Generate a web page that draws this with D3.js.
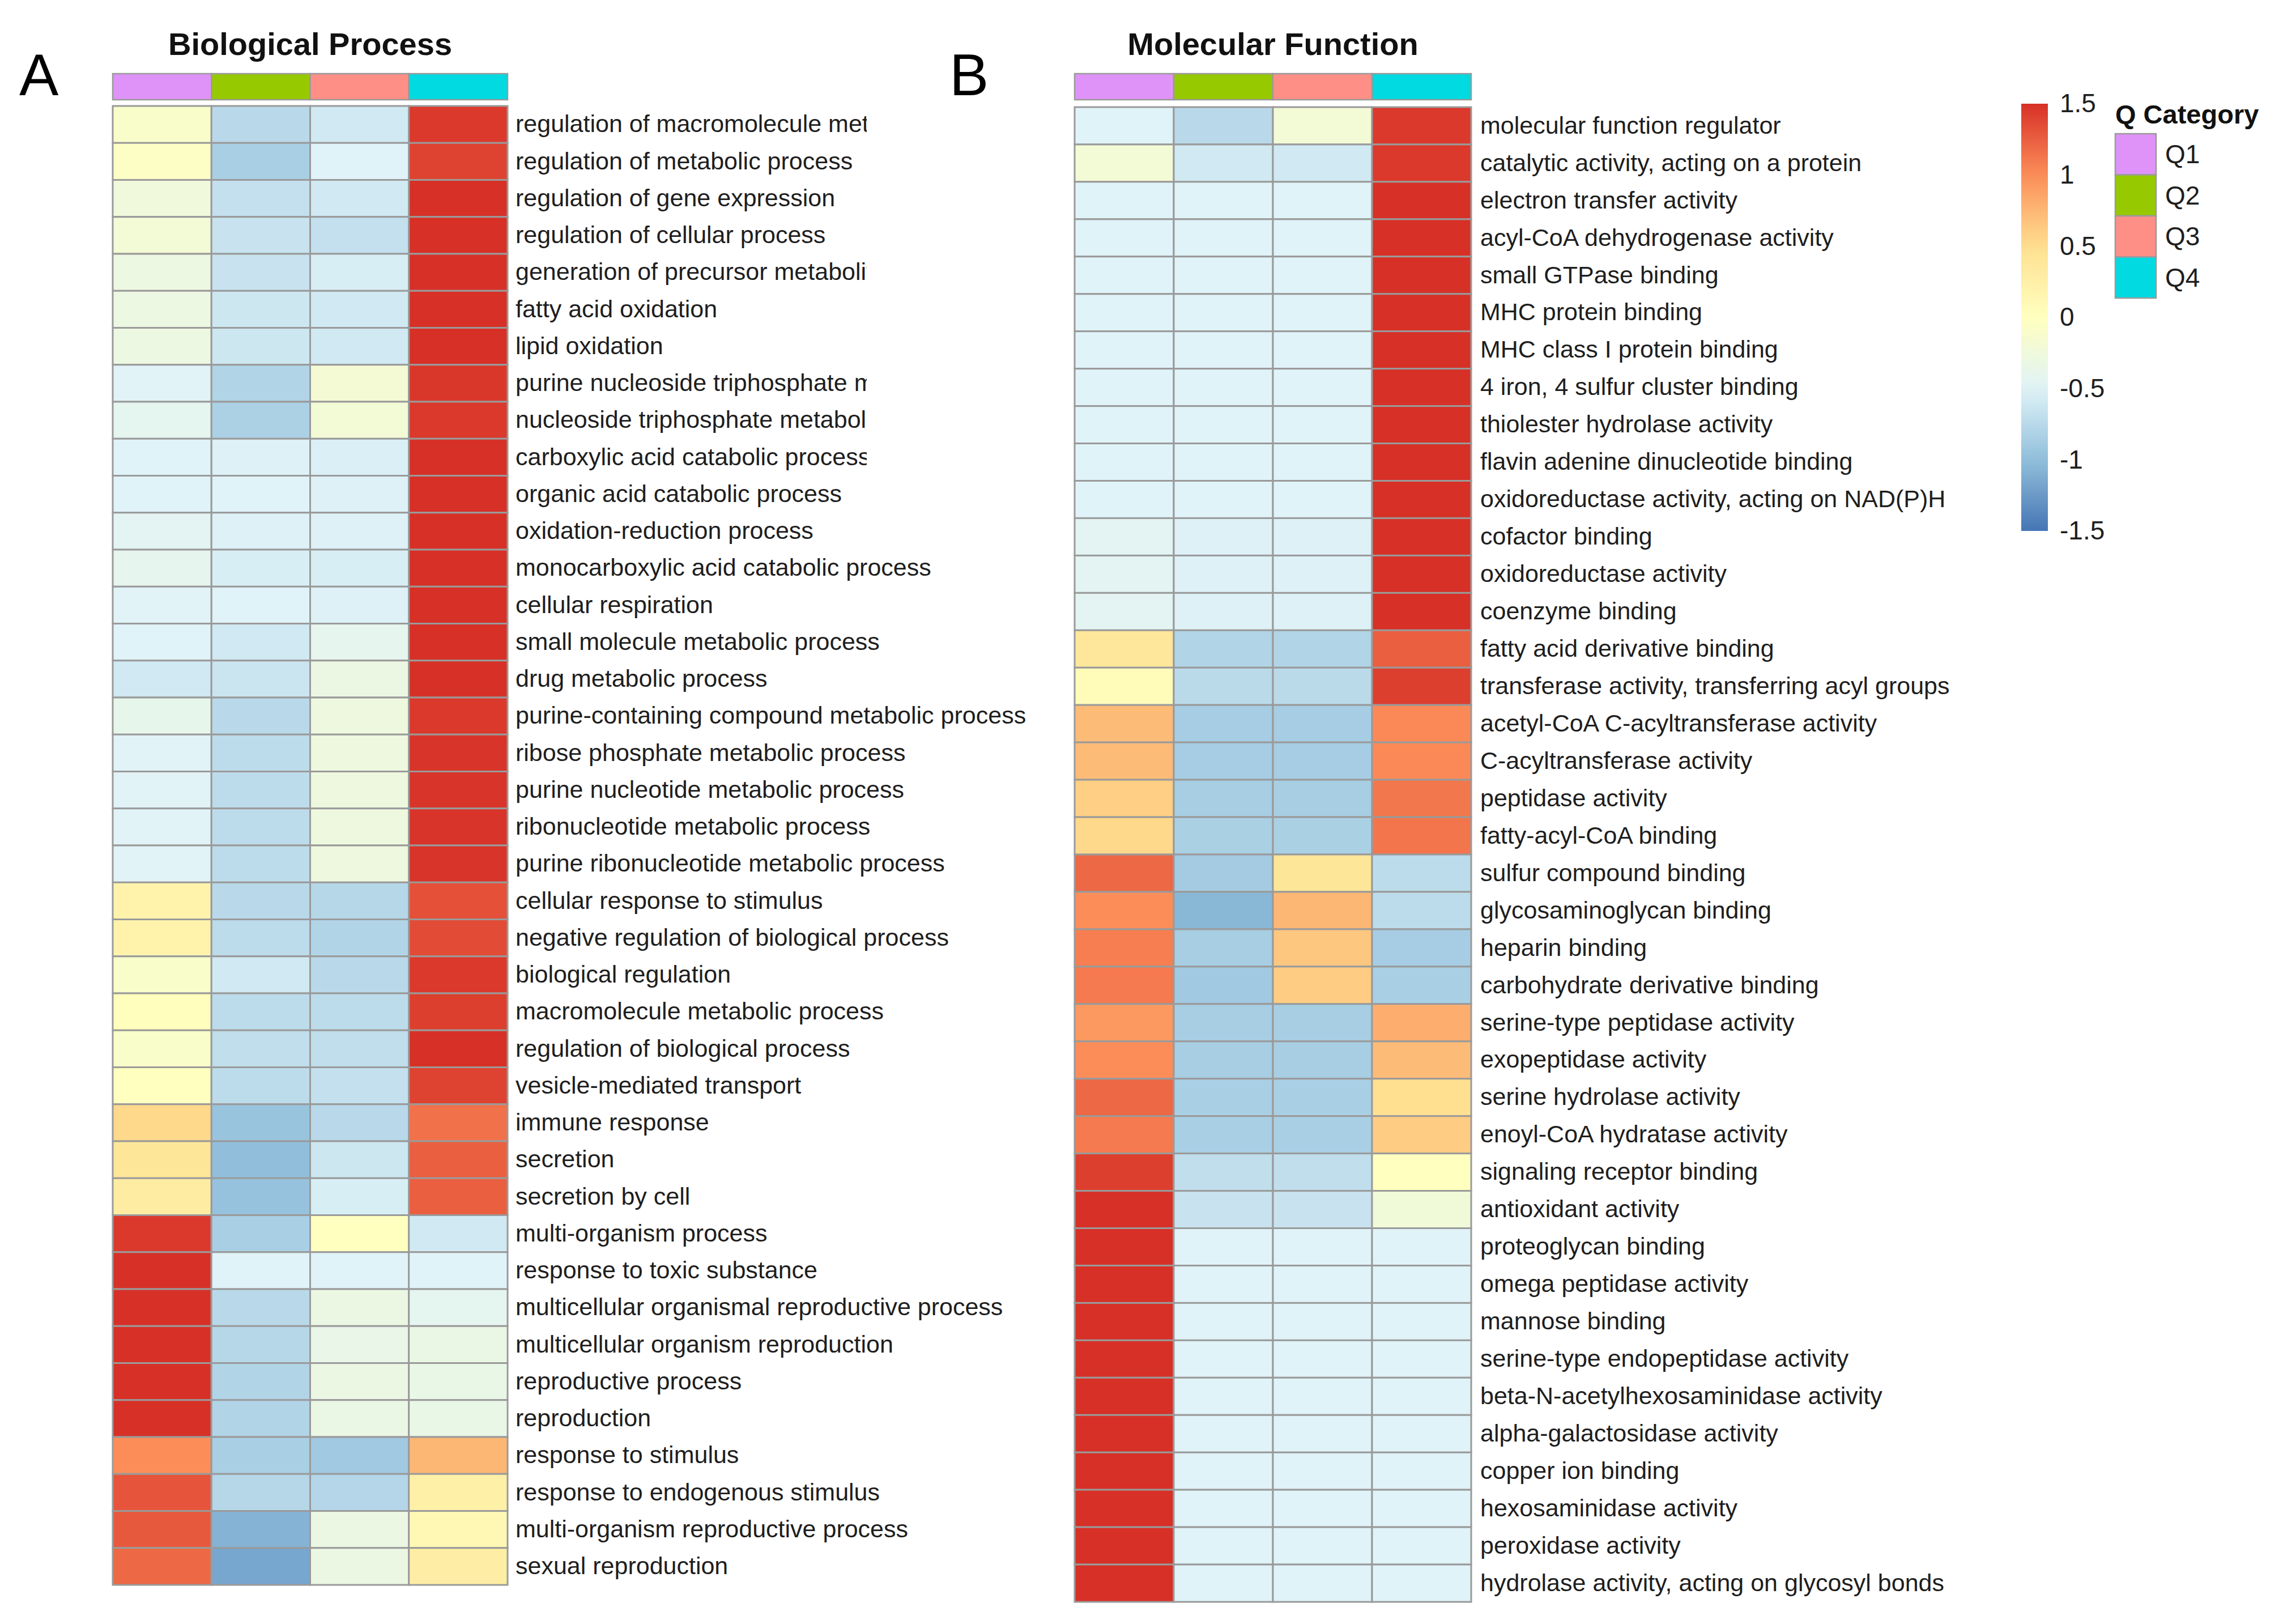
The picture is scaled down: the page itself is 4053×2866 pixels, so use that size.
<!DOCTYPE html>
<html>
<head>
<meta charset="utf-8">
<script src="https://cdn.jsdelivr.net/npm/d3@7"></script>
<style>
  body { margin: 0; background: #fff; }
  text { font-family: "Liberation Sans", Arial, Helvetica, sans-serif; }
</style>
</head>
<body>
<div id="chart-area"></div>
<script>
// z-scored GO term enrichment per quartile, two heatmaps side by side

var categories = ["Q1", "Q2", "Q3", "Q4"];
var categoryColors = ["#DF93F8", "#97C900", "#FD8F87", "#00DAE0"];

var bpTerms = [
  "regulation of macromolecule metabolic process",
  "regulation of metabolic process",
  "regulation of gene expression",
  "regulation of cellular process",
  "generation of precursor metabolites and energy",
  "fatty acid oxidation",
  "lipid oxidation",
  "purine nucleoside triphosphate metabolic process",
  "nucleoside triphosphate metabolic process",
  "carboxylic acid catabolic process",
  "organic acid catabolic process",
  "oxidation-reduction process",
  "monocarboxylic acid catabolic process",
  "cellular respiration",
  "small molecule metabolic process",
  "drug metabolic process",
  "purine-containing compound metabolic process",
  "ribose phosphate metabolic process",
  "purine nucleotide metabolic process",
  "ribonucleotide metabolic process",
  "purine ribonucleotide metabolic process",
  "cellular response to stimulus",
  "negative regulation of biological process",
  "biological regulation",
  "macromolecule metabolic process",
  "regulation of biological process",
  "vesicle-mediated transport",
  "immune response",
  "secretion",
  "secretion by cell",
  "multi-organism process",
  "response to toxic substance",
  "multicellular organismal reproductive process",
  "multicellular organism reproduction",
  "reproductive process",
  "reproduction",
  "response to stimulus",
  "response to endogenous stimulus",
  "multi-organism reproductive process",
  "sexual reproduction"
];

// one row per term: Q1, Q2, Q3, Q4
var bpValues = [
  [-0.10, -0.75, -0.60, 1.45],
  [-0.05, -0.85, -0.50, 1.40],
  [-0.25, -0.68, -0.60, 1.50],
  [-0.20, -0.65, -0.68, 1.50],
  [-0.30, -0.65, -0.55, 1.50],
  [-0.30, -0.62, -0.60, 1.50],
  [-0.30, -0.62, -0.60, 1.50],
  [-0.48, -0.80, -0.18, 1.46],
  [-0.42, -0.83, -0.20, 1.45],
  [-0.50, -0.52, -0.53, 1.50],
  [-0.50, -0.50, -0.52, 1.50],
  [-0.45, -0.52, -0.52, 1.50],
  [-0.40, -0.55, -0.55, 1.50],
  [-0.48, -0.50, -0.52, 1.50],
  [-0.50, -0.60, -0.40, 1.50],
  [-0.60, -0.63, -0.32, 1.50],
  [-0.38, -0.75, -0.28, 1.45],
  [-0.48, -0.72, -0.28, 1.48],
  [-0.48, -0.72, -0.28, 1.48],
  [-0.48, -0.72, -0.28, 1.48],
  [-0.48, -0.72, -0.28, 1.48],
  [0.20, -0.75, -0.77, 1.33],
  [0.20, -0.73, -0.80, 1.35],
  [-0.10, -0.60, -0.75, 1.45],
  [0.02, -0.72, -0.72, 1.42],
  [-0.10, -0.70, -0.70, 1.50],
  [0.00, -0.72, -0.68, 1.40],
  [0.55, -0.95, -0.75, 1.15],
  [0.40, -1.00, -0.62, 1.25],
  [0.30, -0.97, -0.55, 1.25],
  [1.45, -0.85, 0.00, -0.60],
  [1.50, -0.50, -0.50, -0.50],
  [1.50, -0.75, -0.32, -0.42],
  [1.50, -0.77, -0.36, -0.33],
  [1.50, -0.80, -0.32, -0.35],
  [1.50, -0.80, -0.33, -0.35],
  [1.00, -0.85, -0.90, 0.75],
  [1.30, -0.77, -0.78, 0.25],
  [1.28, -1.08, -0.32, 0.12],
  [1.20, -1.17, -0.32, 0.28]
];

var mfTerms = [
  "molecular function regulator",
  "catalytic activity, acting on a protein",
  "electron transfer activity",
  "acyl-CoA dehydrogenase activity",
  "small GTPase binding",
  "MHC protein binding",
  "MHC class I protein binding",
  "4 iron, 4 sulfur cluster binding",
  "thiolester hydrolase activity",
  "flavin adenine dinucleotide binding",
  "oxidoreductase activity, acting on NAD(P)H",
  "cofactor binding",
  "oxidoreductase activity",
  "coenzyme binding",
  "fatty acid derivative binding",
  "transferase activity, transferring acyl groups",
  "acetyl-CoA C-acyltransferase activity",
  "C-acyltransferase activity",
  "peptidase activity",
  "fatty-acyl-CoA binding",
  "sulfur compound binding",
  "glycosaminoglycan binding",
  "heparin binding",
  "carbohydrate derivative binding",
  "serine-type peptidase activity",
  "exopeptidase activity",
  "serine hydrolase activity",
  "enoyl-CoA hydratase activity",
  "signaling receptor binding",
  "antioxidant activity",
  "proteoglycan binding",
  "omega peptidase activity",
  "mannose binding",
  "serine-type endopeptidase activity",
  "beta-N-acetylhexosaminidase activity",
  "alpha-galactosidase activity",
  "copper ion binding",
  "hexosaminidase activity",
  "peroxidase activity",
  "hydrolase activity, acting on glycosyl bonds"
];

var mfValues = [
  [-0.50, -0.75, -0.20, 1.45],
  [-0.20, -0.60, -0.60, 1.45],
  [-0.50, -0.50, -0.50, 1.50],
  [-0.50, -0.50, -0.50, 1.50],
  [-0.50, -0.50, -0.50, 1.50],
  [-0.50, -0.50, -0.50, 1.50],
  [-0.50, -0.50, -0.50, 1.50],
  [-0.50, -0.50, -0.50, 1.50],
  [-0.50, -0.50, -0.50, 1.50],
  [-0.50, -0.50, -0.50, 1.50],
  [-0.50, -0.50, -0.50, 1.50],
  [-0.45, -0.52, -0.52, 1.50],
  [-0.45, -0.52, -0.52, 1.50],
  [-0.45, -0.52, -0.52, 1.50],
  [0.38, -0.80, -0.80, 1.25],
  [0.05, -0.74, -0.74, 1.42],
  [0.72, -0.87, -0.87, 1.02],
  [0.72, -0.87, -0.87, 1.02],
  [0.60, -0.86, -0.86, 1.12],
  [0.55, -0.84, -0.84, 1.13],
  [1.20, -0.88, 0.40, -0.72],
  [1.00, -1.05, 0.75, -0.72],
  [1.08, -0.86, 0.65, -0.87],
  [1.10, -0.90, 0.62, -0.85],
  [0.93, -0.86, -0.86, 0.80],
  [1.00, -0.86, -0.86, 0.72],
  [1.20, -0.85, -0.85, 0.50],
  [1.10, -0.85, -0.85, 0.62],
  [1.42, -0.70, -0.70, 0.00],
  [1.50, -0.65, -0.65, -0.22],
  [1.50, -0.50, -0.50, -0.50],
  [1.50, -0.50, -0.50, -0.50],
  [1.50, -0.50, -0.50, -0.50],
  [1.50, -0.50, -0.50, -0.50],
  [1.50, -0.50, -0.50, -0.50],
  [1.50, -0.50, -0.50, -0.50],
  [1.50, -0.50, -0.50, -0.50],
  [1.50, -0.50, -0.50, -0.50],
  [1.50, -0.50, -0.50, -0.50],
  [1.50, -0.50, -0.50, -0.50]
];

var legendTicks = [1.5, 1, 0.5, 0, -0.5, -1, -1.5];
// pheatmap default palette: rev(brewer.pal(7, "RdYlBu"))
var paletteColors = ["#4575B4", "#91BFDB", "#E0F3F8", "#FFFFBF", "#FEE090", "#FC8D59", "#D73027"];

var width = 4053, height = 2866;
var border = "#9a9a9a";

var svg = d3.select("#chart-area").append("svg")
    .attr("width", width)
    .attr("height", height);

var color = d3.scaleLinear()
    .domain(d3.range(7).map(function(i) { return -1.5 + i * 0.5; }))
    .range(paletteColors)
    .clamp(true);

var defs = svg.append("defs");

// panel A labels were cut off by panel B's image for the first rows
function drawPanel(opt) {
  var x = d3.scaleBand().domain(categories).range([opt.x0, opt.x1]);
  var y = d3.scaleBand().domain(opt.terms).range([opt.top, opt.bottom]);

  var g = svg.append("g");

  g.append("text")
    .attr("x", (opt.x0 + opt.x1) / 2)
    .attr("y", 97)
    .attr("text-anchor", "middle")
    .style("font-size", "56px")
    .style("font-weight", "bold")
    .attr("fill", "#111")
    .text(opt.title);

  g.append("text")
    .attr("x", opt.letterX)
    .attr("y", 168)
    .style("font-size", "104px")
    .attr("fill", "#000")
    .text(opt.letter);

  // annotation bar
  g.selectAll("rect.annot").data(categories).enter().append("rect")
    .attr("class", "annot")
    .attr("x", function(d) { return x(d); })
    .attr("y", 130)
    .attr("width", x.bandwidth())
    .attr("height", 46)
    .attr("fill", function(d, i) { return categoryColors[i]; })
    .attr("stroke", border)
    .attr("stroke-width", 2.5);

  var cells = [];
  opt.values.forEach(function(row, r) {
    row.forEach(function(v, c) {
      cells.push({ term: opt.terms[r], cat: categories[c], value: v });
    });
  });

  g.selectAll("rect.cell").data(cells).enter().append("rect")
    .attr("class", "cell")
    .attr("x", function(d) { return x(d.cat); })
    .attr("y", function(d) { return y(d.term); })
    .attr("width", x.bandwidth())
    .attr("height", y.bandwidth())
    .attr("fill", function(d) { return color(d.value); })
    .attr("stroke", border)
    .attr("stroke-width", 3);

  var labels = g.append("g")
    .attr("transform", "translate(" + opt.x1 + ",0)")
    .call(d3.axisRight(y).tickSize(0).tickPadding(opt.pad));
  labels.select(".domain").remove();
  labels.selectAll("text")
    .attr("fill", "#1e1e1e")
    .style("font-size", "43px")
    .style("font-family", "'Liberation Sans', Arial, sans-serif");

  if (opt.clipUntil) {
    var cp = defs.append("clipPath").attr("id", "clip-" + opt.letter);
    cp.append("rect")
      .attr("x", 0).attr("y", 0)
      .attr("width", opt.clipX - opt.x1).attr("height", height);
    cp.append("rect")
      .attr("x", 0).attr("y", y(opt.terms[opt.clipUntil]))
      .attr("width", 1000).attr("height", height);
    labels.attr("clip-path", "url(#clip-" + opt.letter + ")");
  }
}

drawPanel({
  title: "Biological Process", letter: "A", letterX: 34,
  terms: bpTerms, values: bpValues,
  x0: 199, x1: 896, top: 187, bottom: 2797, pad: 14,
  clipUntil: 10, clipX: 1530
});

drawPanel({
  title: "Molecular Function", letter: "B", letterX: 1676,
  terms: mfTerms, values: mfValues,
  x0: 1897, x1: 2597, top: 189, bottom: 2827, pad: 16
});

// colour key
var legendY = d3.scaleLinear().domain([1.5, -1.5]).range([183, 937]);

var grad = defs.append("linearGradient")
    .attr("id", "key-grad")
    .attr("x1", 0).attr("y1", 1).attr("x2", 0).attr("y2", 0);
grad.selectAll("stop").data(d3.range(0, 1.0001, 0.05)).enter().append("stop")
    .attr("offset", function(d) { return d; })
    .attr("stop-color", function(d) { return color(-1.5 + d * 3); });

svg.append("rect")
    .attr("x", 3568)
    .attr("y", legendY(1.5))
    .attr("width", 47)
    .attr("height", legendY(-1.5) - legendY(1.5))
    .attr("fill", "url(#key-grad)");

var keyAxis = svg.append("g")
    .attr("transform", "translate(3620,0)")
    .call(d3.axisRight(legendY).tickValues(legendTicks).tickSize(0).tickPadding(16)
      .tickFormat(function(d) { return String(d); }));
keyAxis.select(".domain").remove();
keyAxis.selectAll("text")
    .attr("fill", "#1e1e1e")
    .style("font-size", "46px")
    .style("font-family", "'Liberation Sans', Arial, sans-serif");

// annotation legend
svg.append("text")
    .attr("x", 3734)
    .attr("y", 218)
    .style("font-size", "47px")
    .style("font-weight", "bold")
    .attr("fill", "#111")
    .text("Q Category");

var keyRow = d3.scaleBand().domain(categories).range([236, 526]);

svg.selectAll("rect.qkey").data(categories).enter().append("rect")
    .attr("class", "qkey")
    .attr("x", 3734)
    .attr("y", function(d) { return keyRow(d); })
    .attr("width", 72)
    .attr("height", keyRow.bandwidth())
    .attr("fill", function(d, i) { return categoryColors[i]; })
    .attr("stroke", border)
    .attr("stroke-width", 2.5);

svg.selectAll("text.qlab").data(categories).enter().append("text")
    .attr("class", "qlab")
    .attr("x", 3822)
    .attr("y", function(d) { return keyRow(d) + keyRow.bandwidth() / 2; })
    .attr("dy", "0.35em")
    .style("font-size", "46px")
    .attr("fill", "#1e1e1e")
    .text(function(d) { return d; });
</script>
</body>
</html>
